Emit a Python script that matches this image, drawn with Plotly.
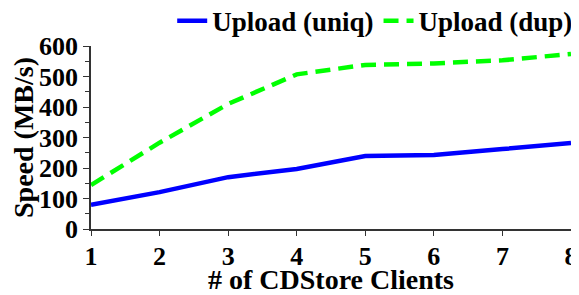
import plotly.graph_objects as go

clients = [1, 2, 3, 4, 5, 6, 7, 8]
upload_uniq = [79, 121, 170, 197, 239, 243, 262, 282]
upload_dup = [144, 283, 410, 507, 538, 543, 553, 574]
y_ticks = [0, 100, 200, 300, 400, 500, 600]

font_family = "Liberation Serif"

fig = go.Figure()
fig.add_trace(go.Scatter(x=clients, y=upload_uniq, mode="lines",
                         name="<b>Upload (uniq)</b>",
                         line=dict(color="#0000ff", width=4.5)))
fig.add_trace(go.Scatter(x=clients, y=upload_dup, mode="lines",
                         name="<b>Upload (dup)</b>",
                         line=dict(color="#00ff00", width=4.5, dash="15px,8px")))

# page body has an 8px margin, so the figure is 8px smaller and offsets reduced
fig.update_layout(
    width=571, height=287,
    margin=dict(l=83, r=8, t=38, b=66, autoexpand=False),
    paper_bgcolor="white", plot_bgcolor="white",
    font=dict(family=font_family, size=26, color="black"),
    showlegend=True,
    legend=dict(orientation="h", x=1.015, xanchor="right", y=1.135, yanchor="middle",
                font=dict(size=27, family=font_family), itemwidth=30,
                tracegroupgap=0, bgcolor="rgba(0,0,0,0)"),
    xaxis=dict(range=[1, 8], tickvals=clients,
               ticktext=[f"<b>{c}</b>" for c in clients],
               showline=True, linecolor="#333", linewidth=1.5,
               ticks="outside", ticklen=5, tickcolor="#333",
               showgrid=False, zeroline=False, automargin=False,
               ticklabelstandoff=-2,
               tickfont=dict(size=26, family=font_family),
               title=dict(text="<b># of CDStore Clients</b>", standoff=3,
                          font=dict(size=28, family=font_family))),
    yaxis=dict(range=[0, 600], tickvals=y_ticks,
               ticktext=[f"<b>{v}</b>" for v in y_ticks],
               showline=True, linecolor="#333", linewidth=1.5,
               ticks="outside", ticklen=6, tickcolor="#333",
               minor=dict(dtick=50, ticks="outside", ticklen=4, tickcolor="#333"),
               showgrid=False, zeroline=False, automargin=False,
               tickfont=dict(size=26, family=font_family),
               title=dict(text="<b>Speed (MB/s)</b>", standoff=2,
                          font=dict(size=28, family=font_family))),
)

fig.write_html("out.html")
